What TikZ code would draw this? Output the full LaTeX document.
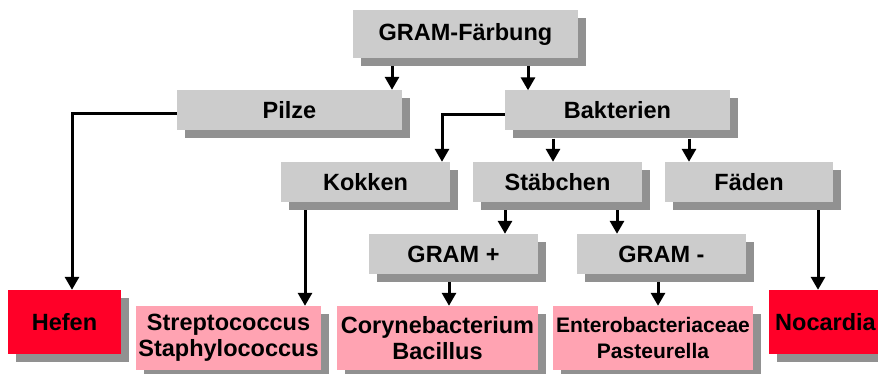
\documentclass[tikz,border=0pt]{standalone}
\usepackage{fontspec}
\setmainfont{Liberation Sans}
\usetikzlibrary{arrows.meta,shadows}
\definecolor{boxgray}{RGB}{204,204,204}
\definecolor{shadowgray}{RGB}{145,145,145}
\definecolor{pinkbox}{RGB}{255,163,178}
\definecolor{redbox}{RGB}{255,0,40}
\tikzset{
  base/.style={rectangle, inner sep=0pt, align=center,
    font=\bfseries\fontsize{23.5}{26}\selectfont,
    general shadow={fill=shadowgray, shadow xshift=8pt, shadow yshift=-8pt}},
  graybox/.style={base, fill=boxgray, minimum height=40pt},
  pinkb/.style={base, fill=pinkbox, minimum height=64pt},
  redb/.style={base, fill=redbox, minimum height=64pt, minimum width=113pt},
  arr/.style={line width=3pt, -{Triangle[length=13pt,width=14pt]}}
}
\begin{document}
\begin{tikzpicture}[x=1pt,y=-1pt]
\useasboundingbox (0,0) rectangle (878,374);
\clip (0,0) rectangle (878,374);
% nodes
\node[graybox, minimum width=225pt, minimum height=48pt] (faerb) at (465.5,34) {GRAM-Färbung};
\node[graybox, minimum width=225pt] (pilze) at (289.5,110) {Pilze};
\node[graybox, minimum width=225pt] (bakt) at (617.5,110.5) {Bakterien};
\node[graybox, minimum width=169pt] (kokken) at (365.5,182) {Kokken};
\node[graybox, minimum width=169pt] (staeb) at (557.5,182) {Stäbchen};
\node[graybox, minimum width=168pt] (faeden) at (749,182) {Fäden};
\node[graybox, minimum width=169pt] (gplus) at (453.5,254) {GRAM +};
\node[graybox, minimum width=169pt] (gminus) at (661.5,254) {GRAM -};
\node[redb] (hefen) at (64.5,322) {Hefen};
\node[pinkb, minimum width=185pt] (strep) at (228.5,338) {Streptococcus\\Staphylococcus};
\node[pinkb, minimum width=201pt] (coryne) at (437.5,338) {Corynebacterium\\Bacillus};
\node[pinkb, minimum width=200pt, font=\bfseries\fontsize{21}{25.7}\selectfont] (entero) at (653,338) {Enterobacteriaceae\\Pasteurella};
\node[redb] (nocardia) at (825.5,322) {Nocardia};
% connectors
\draw[arr] (392,0 |- faerb.south) ++(0,8) -- (392,0 |- pilze.north);
\draw[arr] (528,0 |- faerb.south) ++(0,8) -- (528,0 |- bakt.north);
\draw[arr] ([yshift=-4pt]pilze.west) -| (72,0 |- hefen.north);
\draw[arr] ([yshift=-4pt]bakt.west) -| (442,0 |- kokken.north);
\draw[arr] (553,0 |- bakt.south) ++(0,8) -- (553,0 |- staeb.north);
\draw[arr] (689,0 |- bakt.south) ++(0,8) -- (689,0 |- faeden.north);
\draw[arr] (305,0 |- kokken.south) ++(0,8) -- (305,0 |- strep.north);
\draw[arr] (505,0 |- staeb.south) ++(0,8) -- (505,0 |- gplus.north);
\draw[arr] (617,0 |- staeb.south) ++(0,8) -- (617,0 |- gminus.north);
\draw[arr] (449,0 |- gplus.south) ++(0,8) -- (449,0 |- coryne.north);
\draw[arr] (658,0 |- gminus.south) ++(0,8) -- (658,0 |- entero.north);
\draw[arr] (818,0 |- faeden.south) ++(0,8) -- (818,0 |- nocardia.north);
\end{tikzpicture}
\end{document}
